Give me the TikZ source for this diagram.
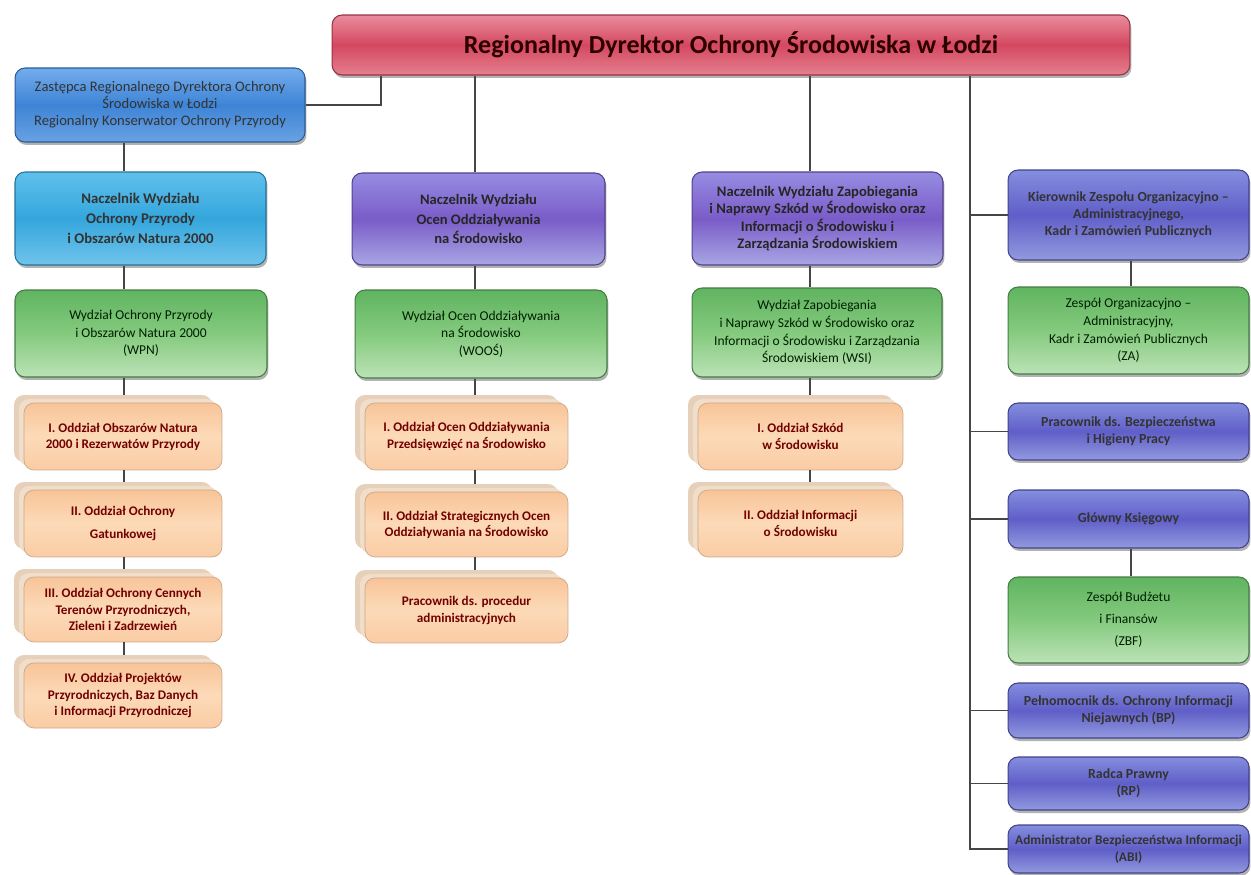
\documentclass[tikz,border=0pt]{standalone}
\usepackage{fontspec}
\setmainfont{Carlito}
\usetikzlibrary{shadows}

\definecolor{redT}{RGB}{234,140,156}
\definecolor{redM}{RGB}{212,72,96}
\definecolor{redB}{RGB}{228,128,142}
\definecolor{depT}{RGB}{115,172,236}
\definecolor{depM}{RGB}{62,132,214}
\definecolor{depB}{RGB}{104,162,226}
\definecolor{cyT}{RGB}{96,192,236}
\definecolor{cyM}{RGB}{52,166,220}
\definecolor{cyB}{RGB}{112,196,236}
\definecolor{fiT}{RGB}{150,140,226}
\definecolor{fiM}{RGB}{122,92,200}
\definecolor{fiB}{RGB}{168,166,228}
\definecolor{niT}{RGB}{132,142,222}
\definecolor{niM}{RGB}{96,94,200}
\definecolor{niB}{RGB}{146,154,222}
\definecolor{ziT}{RGB}{96,180,96}
\definecolor{ziM}{RGB}{132,202,126}
\definecolor{ziB}{RGB}{188,226,182}
\definecolor{poT}{RGB}{248,196,152}
\definecolor{poM}{RGB}{252,218,184}
\definecolor{poB}{RGB}{250,204,164}
\definecolor{poTyl1}{RGB}{240,222,202}
\definecolor{poTyl2}{RGB}{230,208,186}
\definecolor{liniaC}{RGB}{70,70,70}

\begin{document}
\begin{tikzpicture}[x=0.02cm,y=-0.02cm,
  box/.style={draw,rounded corners=0.2cm,align=center,inner sep=1pt,line width=0.6pt,
    drop shadow={shadow xshift=0.03cm,shadow yshift=-0.06cm,fill=black,opacity=0.3}},
  glowny/.style={box,draw=redM!70!black,top color=redT,bottom color=redB,middle color=redM,
    text=black!65!red!50!black,font=\fontsize{14.8}{16}\selectfont\bfseries},
  zastepca/.style={box,draw=depM!70!black,top color=depT,bottom color=depB,middle color=depM,
    text=black!80,font=\fontsize{8.3}{9.6}\selectfont},
  naczC/.style={box,draw=cyM!70!black,top color=cyT,bottom color=cyB,middle color=cyM,
    text=black!80,font=\fontsize{8.4}{11.5}\selectfont\bfseries},
  naczF/.style={box,draw=fiM!70!black,top color=fiT,bottom color=fiB,middle color=fiM,
    text=black!85,font=\fontsize{8.3}{9.8}\selectfont\bfseries},
  niebieski/.style={box,draw=niM!70!black,top color=niT,bottom color=niB,middle color=niM,
    text=black!80,font=\fontsize{7.9}{9.8}\selectfont\bfseries},
  wydzial/.style={box,draw=ziT!70!black,top color=ziT,bottom color=ziB,middle color=ziM,
    text=black!70!green!40!black,font=\fontsize{7.7}{10}\selectfont},
  oddzial/.style={draw=poT!80!black!90,rounded corners=0.2cm,align=center,inner sep=1pt,line width=0.4pt,
    top color=poT,bottom color=poB,middle color=poM,
    text=red!45!black,font=\fontsize{7.5}{9.2}\selectfont\bfseries,
    copy shadow={shadow xshift=-0.2cm,shadow yshift=0.16cm,fill=poTyl2,draw=none},
    copy shadow={shadow xshift=-0.1cm,shadow yshift=0.08cm,fill=poTyl1,draw=none}},
  linia/.style={draw=liniaC,line width=0.8pt}]

  \useasboundingbox (0,0) rectangle (1251,875);

  % kierownictwo
  \node[glowny,minimum width=15.96cm,minimum height=1.2cm] (rdos) at (731,45)
    {Regionalny Dyrektor Ochrony Środowiska w Łodzi};
  \node[zastepca,minimum width=5.8cm,minimum height=1.48cm] (zast) at (160,105)
    {Zastępca Regionalnego Dyrektora Ochrony\\Środowiska w Łodzi\\Regionalny Konserwator Ochrony Przyrody};

  % WPN
  \node[naczC,minimum width=5.02cm,minimum height=1.86cm] (nacz1) at (140.5,218.5)
    {Naczelnik Wydziału\\Ochrony Przyrody\\i Obszarów Natura 2000};
  \node[wydzial,minimum width=5.04cm,minimum height=1.74cm] (wpn) at (141,333.5)
    {Wydział Ochrony Przyrody\\i Obszarów Natura 2000\\(WPN)};
  \node[oddzial,minimum width=3.96cm,minimum height=1.34cm] (o11) at (123,436.5)
    {I. Oddział Obszarów Natura\\2000 i Rezerwatów Przyrody};
  \node[oddzial,minimum width=3.96cm,minimum height=1.34cm,font=\fontsize{7.5}{13}\selectfont\bfseries] (o12) at (123,523.5)
    {II. Oddział Ochrony\\Gatunkowej};
  \node[oddzial,minimum width=3.96cm,minimum height=1.3cm] (o13) at (123,609.5)
    {III. Oddział Ochrony Cennych\\Terenów Przyrodniczych,\\Zieleni i Zadrzewień};
  \node[oddzial,minimum width=3.96cm,minimum height=1.3cm] (o14) at (123,695.5)
    {IV. Oddział Projektów\\Przyrodniczych, Baz Danych\\i Informacji Przyrodniczej};

  % WOOS
  \node[naczF,minimum width=5.06cm,minimum height=1.84cm,font=\fontsize{8.3}{11.2}\selectfont\bfseries] (nacz2) at (478.5,219)
    {Naczelnik Wydziału\\Ocen Oddziaływania\\na Środowisko};
  \node[wydzial,minimum width=5.04cm,minimum height=1.76cm] (woos) at (481,334)
    {Wydział Ocen Oddziaływania\\na Środowisko\\(WOOŚ)};
  \node[oddzial,minimum width=4.06cm,minimum height=1.34cm] (o21) at (466.5,436.5)
    {I. Oddział Ocen Oddziaływania\\Przedsięwzięć na Środowisko};
  \node[oddzial,minimum width=4.06cm,minimum height=1.3cm] (o22) at (466.5,524.5)
    {II. Oddział Strategicznych Ocen\\Oddziaływania na Środowisko};
  \node[oddzial,minimum width=4.06cm,minimum height=1.3cm] (o23) at (466.5,610.5)
    {Pracownik ds. procedur\\administracyjnych};

  % WSI
  \node[naczF,minimum width=5.02cm,minimum height=1.86cm] (nacz3) at (817.5,218.5)
    {Naczelnik Wydziału Zapobiegania\\i Naprawy Szkód w Środowisko oraz\\Informacji o Środowisku i\\Zarządzania Środowiskiem};
  \node[wydzial,minimum width=5.0cm,minimum height=1.78cm] (wsi) at (817,332.5)
    {Wydział Zapobiegania\\i Naprawy Szkód w Środowisko oraz\\Informacji o Środowisku i Zarządzania\\Środowiskiem (WSI)};
  \node[oddzial,minimum width=4.1cm,minimum height=1.34cm] (o31) at (800.5,436.5)
    {I. Oddział Szkód\\w Środowisku};
  \node[oddzial,minimum width=4.1cm,minimum height=1.34cm] (o32) at (800.5,523.5)
    {II. Oddział Informacji\\o Środowisku};

  % samodzielne stanowiska
  \node[niebieski,minimum width=4.82cm,minimum height=1.8cm] (kier) at (1128.5,215)
    {Kierownik Zespołu Organizacyjno –\\Administracyjnego,\\Kadr i Zamówień Publicznych};
  \node[wydzial,minimum width=4.82cm,minimum height=1.74cm] (za) at (1128.5,330.5)
    {Zespół Organizacyjno –\\Administracyjny,\\Kadr i Zamówień Publicznych\\(ZA)};
  \node[niebieski,minimum width=4.82cm,minimum height=1.14cm] (bhp) at (1128.5,431.5)
    {Pracownik ds. Bezpieczeństwa\\i Higieny Pracy};
  \node[niebieski,minimum width=4.82cm,minimum height=1.16cm] (ksieg) at (1128.5,519)
    {Główny Księgowy};
  \node[wydzial,minimum width=4.82cm,minimum height=1.72cm,font=\fontsize{7.7}{12.5}\selectfont] (zbf) at (1128.5,620)
    {Zespół Budżetu\\i Finansów\\(ZBF)};
  \node[niebieski,minimum width=4.82cm,minimum height=1.1cm] (pel) at (1128.5,710.5)
    {Pełnomocnik ds. Ochrony Informacji\\Niejawnych (BP)};
  \node[niebieski,minimum width=4.82cm,minimum height=1.06cm] (radca) at (1128.5,783.5)
    {Radca Prawny\\(RP)};
  \node[niebieski,minimum width=4.82cm,minimum height=0.96cm,font=\fontsize{7.6}{9.8}\selectfont\bfseries] (abi) at (1128.5,849)
    {Administrator Bezpieczeństwa Informacji\\(ABI)};

  % linie
  \coordinate (zk) at (381,0);
  \coordinate (k1) at (124,0);
  \coordinate (k2) at (475,0);
  \coordinate (k3) at (810,0);
  \coordinate (k4) at (1131,0);
  \coordinate (pion) at (970,0);

  \draw[linia] (rdos.south -| zk) |- (zast.east);
  \draw[linia] (zast.south -| k1) -- (nacz1.north -| k1);
  \draw[linia] (nacz1.south -| k1) -- (wpn.north -| k1);
  \draw[linia] (wpn.south -| k1) -- ([yshift=0.16cm]o11.north -| k1);
  \draw[linia] (o11.south -| k1) -- ([yshift=0.16cm]o12.north -| k1);
  \draw[linia] (o12.south -| k1) -- ([yshift=0.16cm]o13.north -| k1);
  \draw[linia] (o13.south -| k1) -- ([yshift=0.16cm]o14.north -| k1);

  \draw[linia] (rdos.south -| k2) -- (nacz2.north -| k2);
  \draw[linia] (nacz2.south -| k2) -- (woos.north -| k2);
  \draw[linia] (woos.south -| k2) -- ([yshift=0.16cm]o21.north -| k2);
  \draw[linia] (o21.south -| k2) -- ([yshift=0.16cm]o22.north -| k2);
  \draw[linia] (o22.south -| k2) -- ([yshift=0.16cm]o23.north -| k2);

  \draw[linia] (rdos.south -| k3) -- (nacz3.north -| k3);
  \draw[linia] (nacz3.south -| k3) -- (wsi.north -| k3);
  \draw[linia] (wsi.south -| k3) -- ([yshift=0.16cm]o31.north -| k3);
  \draw[linia] (o31.south -| k3) -- ([yshift=0.16cm]o32.north -| k3);

  \draw[linia] (rdos.south -| pion) |- (abi.west);
  \draw[linia] (pion |- kier.west) -- (kier.west);
  \draw[linia] (pion |- bhp.west) -- (bhp.west);
  \draw[linia] (pion |- ksieg.west) -- (ksieg.west);
  \draw[linia] (pion |- pel.west) -- (pel.west);
  \draw[linia] (pion |- radca.west) -- (radca.west);
  \draw[linia] (kier.south -| k4) -- (za.north -| k4);
  \draw[linia] (ksieg.south -| k4) -- (zbf.north -| k4);

\end{tikzpicture}
\end{document}
